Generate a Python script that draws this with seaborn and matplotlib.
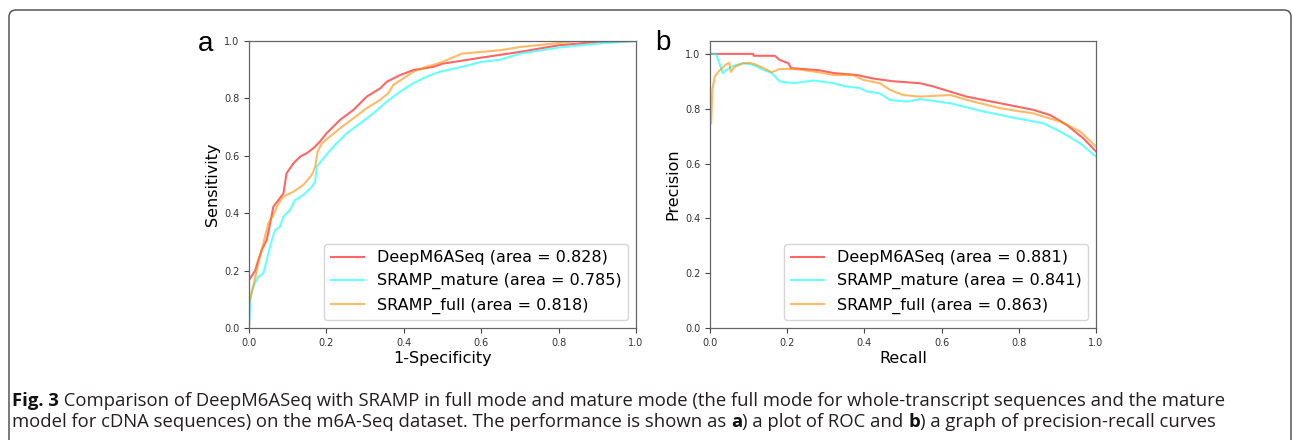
import numpy as np
import pandas as pd
import seaborn as sns
import matplotlib.pyplot as plt
from matplotlib.patches import FancyBboxPatch

models = ["DeepM6ASeq", "SRAMP_mature", "SRAMP_full"]
roc_auc = [0.828, 0.785, 0.818]
pr_auc = [0.881, 0.841, 0.863]
colors = ["red", "cyan", "darkorange"]

# ROC curves (1-specificity, sensitivity)
roc_fpr_deep = [0, 0.0, 0.016, 0.024, 0.033, 0.046, 0.058, 0.063, 0.076, 0.089, 0.093, 0.097, 0.115,
                0.132, 0.149, 0.166, 0.183, 0.2, 0.235, 0.27, 0.304, 0.339, 0.356, 0.39, 0.425, 0.477,
                0.5, 0.6, 0.7, 0.8, 0.9, 1.0]
roc_tpr_deep = [0, 0.167, 0.2, 0.237, 0.272, 0.307, 0.388, 0.423, 0.446, 0.469, 0.504, 0.539, 0.574,
                0.597, 0.609, 0.626, 0.649, 0.678, 0.725, 0.76, 0.806, 0.835, 0.858, 0.881, 0.899, 0.91,
                0.921, 0.942, 0.962, 0.985, 0.997, 1.0]
roc_fpr_mature = [0, 0.004, 0.011, 0.024, 0.037, 0.046, 0.054, 0.067, 0.08, 0.089, 0.106, 0.119, 0.14,
                  0.162, 0.171, 0.175, 0.192, 0.218, 0.252, 0.287, 0.321, 0.356, 0.39, 0.425, 0.459,
                  0.494, 0.55, 0.6, 0.65, 0.7, 0.8, 0.9, 1.0]
roc_tpr_mature = [0, 0.109, 0.144, 0.179, 0.19, 0.237, 0.283, 0.341, 0.353, 0.388, 0.411, 0.446, 0.463,
                  0.492, 0.51, 0.562, 0.591, 0.632, 0.678, 0.713, 0.748, 0.789, 0.823, 0.853, 0.876,
                  0.893, 0.91, 0.927, 0.935, 0.956, 0.977, 0.991, 1.0]
roc_fpr_full = [0, 0.0, 0.011, 0.024, 0.037, 0.05, 0.063, 0.076, 0.089, 0.115, 0.14, 0.162, 0.171,
                0.177, 0.188, 0.209, 0.235, 0.27, 0.304, 0.339, 0.36, 0.373, 0.399, 0.425, 0.459,
                0.494, 0.55, 0.6, 0.65, 0.7, 0.8, 0.85, 1.0]
roc_tpr_full = [0, 0.086, 0.144, 0.225, 0.295, 0.365, 0.394, 0.434, 0.458, 0.475, 0.498, 0.533, 0.562,
                0.614, 0.643, 0.667, 0.696, 0.731, 0.766, 0.795, 0.818, 0.847, 0.87, 0.893, 0.91,
                0.924, 0.956, 0.962, 0.968, 0.979, 0.993, 1.0, 1.0]

# precision-recall curves (recall, precision)
pr_rec_deep = [0, 0.112, 0.113, 0.168, 0.18, 0.203, 0.21, 0.285, 0.32, 0.38, 0.423, 0.475, 0.544,
               0.579, 0.665, 0.751, 0.837, 0.881, 0.924, 0.967, 1.0]
pr_prec_deep = [1.0, 1.0, 0.993, 0.993, 0.978, 0.966, 0.948, 0.94, 0.93, 0.923, 0.91, 0.9, 0.893,
                0.881, 0.844, 0.82, 0.796, 0.777, 0.741, 0.692, 0.644]
pr_rec_mature = [0, 0.016, 0.033, 0.043, 0.06, 0.086, 0.112, 0.138, 0.16, 0.18, 0.216, 0.268, 0.32,
                 0.354, 0.389, 0.406, 0.44, 0.466, 0.51, 0.544, 0.622, 0.708, 0.794, 0.863, 0.907,
                 0.959, 1.0]
pr_prec_mature = [1.0, 1.0, 0.93, 0.942, 0.956, 0.966, 0.96, 0.942, 0.93, 0.9, 0.893, 0.903, 0.893,
                  0.881, 0.875, 0.863, 0.856, 0.832, 0.826, 0.835, 0.82, 0.79, 0.765, 0.747, 0.717,
                  0.674, 0.625]
pr_rec_full = [0.003, 0.006, 0.012, 0.025, 0.043, 0.05, 0.054, 0.065, 0.086, 0.104, 0.12, 0.147, 0.16,
               0.18, 0.216, 0.268, 0.32, 0.371, 0.397, 0.44, 0.466, 0.5, 0.544, 0.622, 0.665, 0.751,
               0.837, 0.907, 0.959, 1.0]
pr_prec_full = [0.747, 0.869, 0.917, 0.94, 0.963, 0.967, 0.934, 0.954, 0.966, 0.967, 0.96, 0.942, 0.933,
                0.945, 0.945, 0.936, 0.923, 0.923, 0.905, 0.893, 0.869, 0.85, 0.844, 0.85, 0.832, 0.802,
                0.783, 0.753, 0.717, 0.662]

roc_x = [roc_fpr_deep, roc_fpr_mature, roc_fpr_full]
roc_y = [roc_tpr_deep, roc_tpr_mature, roc_tpr_full]
pr_x = [pr_rec_deep, pr_rec_mature, pr_rec_full]
pr_y = [pr_prec_deep, pr_prec_mature, pr_prec_full]

ticks = [0.0, 0.2, 0.4, 0.6, 0.8, 1.0]

W, H = 1293, 440
fig = plt.figure(figsize=(W / 100, H / 100), dpi=100)
ax_a = fig.add_axes([249 / W, 1 - 328 / H, 387 / W, 287 / H])
ax_b = fig.add_axes([710 / W, 1 - 328 / H, 386 / W, 287 / H])


def draw_panel(ax, xs, ys, aucs, xlabel, ylabel, ytop):
    for name, x, y, auc, c in zip(models, xs, ys, aucs, colors):
        df = pd.DataFrame({"x": x, "y": y})
        sns.lineplot(data=df, x="x", y="y", ax=ax, sort=False, estimator=None,
                     color=c, alpha=0.6, linewidth=1.5,
                     label="%s (area = %.3f)" % (name, auc))
    ax.set_xlim(0, 1)
    ax.set_ylim(0, ytop)
    ax.set_xticks(ticks)
    ax.set_yticks(ticks)
    ax.tick_params(labelsize=7, length=3.5, width=0.8, colors="#444444", labelcolor="#333333")
    for s in ax.spines.values():
        s.set_color("#666666")
        s.set_linewidth(0.9)
    ax.set_xlabel(xlabel, fontsize=11.5, labelpad=2)
    ax.set_ylabel(ylabel, fontsize=11.5, labelpad=3)
    ax.legend(loc="lower right", fontsize=11.5, handlelength=2.1, borderaxespad=0.5)


draw_panel(ax_a, roc_x, roc_y, roc_auc, "1-Specificity", "Sensitivity", 1.0)
draw_panel(ax_b, pr_x, pr_y, pr_auc, "Recall", "Precision", 1.047)

fig.text(213, H - 51, "a", transform=None, ha="right", va="baseline",
         fontsize=20, family="Liberation Sans")
fig.text(655, H - 50, "b", transform=None, ha="left", va="baseline",
         fontsize=20, family="Liberation Sans")

# rounded frame around figure
frame = FancyBboxPatch((9, -30), 1282, H - 10 + 30, boxstyle="round,pad=0,rounding_size=7",
                       transform=None, fill=False, edgecolor="#555555", linewidth=1.1)
fig.patches.append(frame)

# caption with bold runs
line1 = [("Fig. 3", "bold"),
         (" Comparison of DeepM6ASeq with SRAMP in full mode and mature mode (the full mode for "
          "whole-transcript sequences and the mature", "normal")]
line2 = [("model for cDNA sequences) on the m6A-Seq dataset. The performance is shown as ", "normal"),
         ("a", "bold"), (") a plot of ROC and ", "normal"), ("b", "bold"),
         (") a graph of precision-recall curves", "normal")]

renderer = fig.canvas.get_renderer()


def draw_runs(x, y, runs):
    for s, weight in runs:
        t = fig.text(x, y, s, transform=None, va="baseline", ha="left", fontsize=13.3,
                     family="Open Sans", fontweight=weight,
                     color="#111111" if weight == "bold" else "#231f20")
        x = t.get_window_extent(renderer).x1


draw_runs(12, H - 405.5, line1)
draw_runs(12, H - 426.7, line2)

fig.savefig("out.png", dpi=100)
